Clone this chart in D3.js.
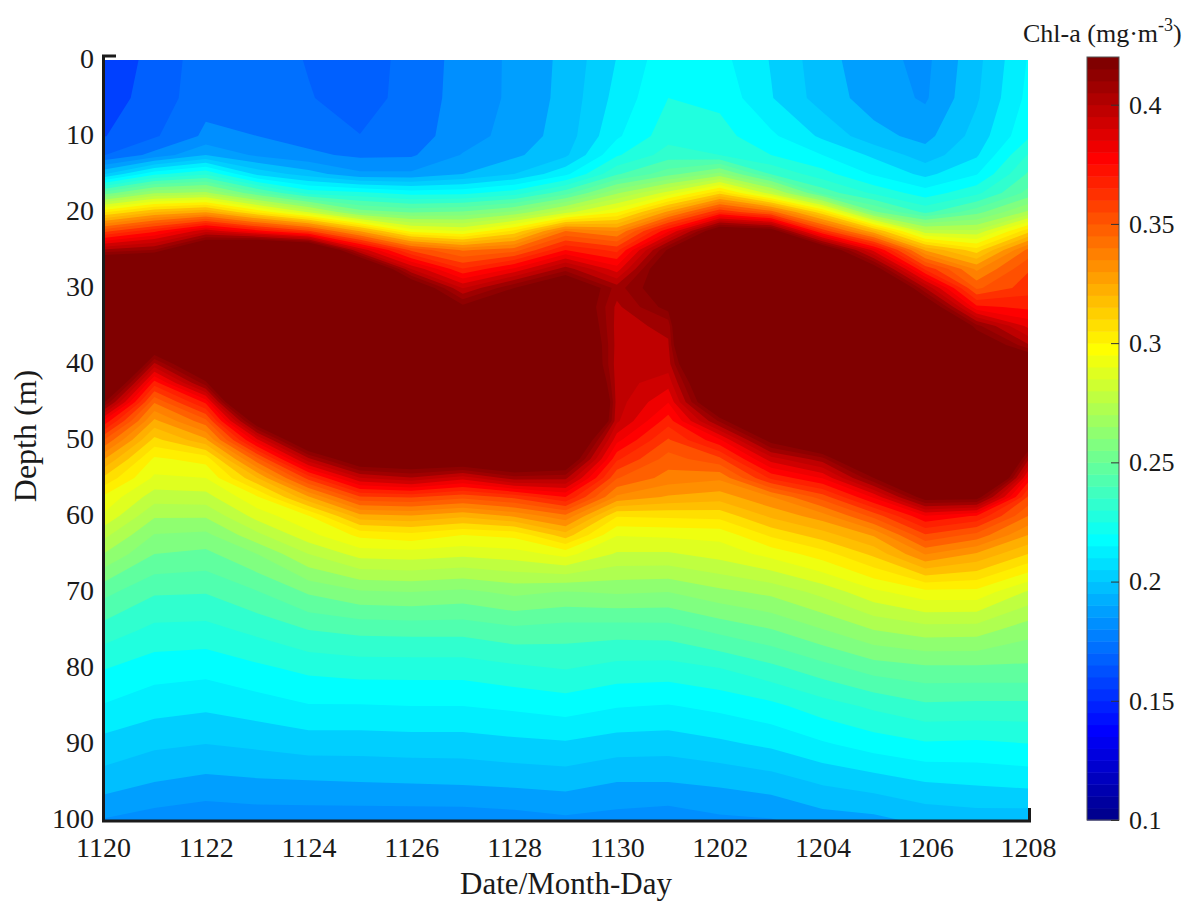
<!DOCTYPE html>
<html>
<head>
<meta charset="utf-8">
<script src="https://cdn.jsdelivr.net/npm/d3@7"></script>
<style>
body { margin: 0; background: #fff; }
text { font-family: "Liberation Serif", serif; fill: #1a1a1a; }
</style>
</head>
<body>
<div id="chart"></div>
<script>
const dates = ["1120","1121","1122","1123","1124","1125","1126","1127","1128","1129","1130",
    "1201","1202","1203","1204","1205","1206","1207","1208"];
const depths = [0,5,10,12.5,15,17.5,20,22.5,25,27.5,30,32.5,35,37.5,40,42.5,45,47.5,50,52.5,55,57.5,60,62.5,65,70,75,80,85,90,95,100];
const depthTicks = [0,10,20,30,40,50,60,70,80,90,100];
const barTicks = [0.1,0.15,0.2,0.25,0.3,0.35,0.4];

// Chl-a per date, one value per entry of depths
const chl1120 = [.1615,.1625,.1655,.173,.2025,.2515,.307,.358,.407,.46,.5,.52,.52,.51,.5,.46,.424,.383,.354,.332,.315,.3,.2925,.281,.271,.251,.238,.2265,.218,.2085,.2,.188];
const chl1121 = [.168,.169,.1725,.1835,.224,.27,.323,.374,.414,.47,.5,.5,.48,.44,.404,.372,.347,.329,.3135,.2995,.292,.282,.272,.263,.256,.242,.2315,.222,.214,.205,.196,.185];
const chl1122 = [.178,.1785,.1825,.196,.2325,.273,.33,.396,.45,.49,.52,.52,.51,.49,.45,.418,.378,.351,.329,.304,.2935,.283,.272,.2615,.254,.2415,.231,.221,.2125,.2035,.194,.183];
const chl1123 = [.1775,.178,.181,.187,.209,.25,.307,.379,.47,.5,.52,.52,.52,.52,.52,.52,.49,.433,.389,.351,.323,.3,.289,.2765,.2635,.248,.2355,.2245,.215,.205,.195,.184];
const chl1124 = [.173,.174,.178,.1825,.1996,.231,.285,.362,.46,.5,.52,.52,.52,.52,.52,.52,.52,.49,.446,.404,.364,.33,.3005,.291,.2785,.257,.241,.228,.218,.207,.1955,.184];
const chl1125 = [.1695,.17,.1737,.1795,.19,.228,.26,.33,.397,.46,.5,.52,.52,.52,.52,.52,.52,.51,.475,.437,.398,.36,.328,.303,.289,.2625,.243,.2295,.218,.207,.196,.184];
const chl1126 = [.1762,.1765,.1775,.18,.19,.223,.255,.298,.359,.3985,.44,.48,.5,.52,.52,.52,.52,.52,.5,.44,.405,.362,.33,.306,.29,.2635,.2435,.2295,.2185,.2075,.1965,.184];
const chl1127 = [.1837,.184,.185,.189,.196,.224,.257,.293,.345,.369,.398,.424,.46,.49,.5,.52,.52,.52,.5,.44,.394,.356,.325,.301,.288,.2615,.2435,.2295,.2185,.2075,.197,.184];
const chl1128 = [.19,.19,.1915,.1945,.2035,.23,.265,.31,.35,.385,.421,.46,.5,.52,.52,.52,.52,.52,.5,.448,.41,.363,.332,.303,.29,.2655,.2465,.232,.22,.209,.198,.185];
const chl1129 = [.198,.1985,.1995,.202,.2165,.2455,.283,.346,.376,.41,.445,.446,.455,.465,.47,.5,.55,.53,.46,.44,.408,.376,.344,.32,.296,.263,.245,.234,.222,.21,.199,.187];
const chl1130 = [.2113,.2135,.2172,.225,.24,.27,.3,.338,.366,.387,.41,.404,.403,.403,.402,.402,.402,.4,.386,.37,.354,.337,.309,.294,.285,.2645,.2445,.231,.219,.2075,.196,.1855];
const chl1201 = [.2235,.226,.2305,.237,.253,.289,.333,.382,.423,.44,.432,.425,.408,.405,.4025,.394,.384,.372,.36,.35,.343,.33,.31,.295,.285,.2635,.245,.2305,.218,.207,.196,.184];
const chl1202 = [.221,.224,.229,.2335,.266,.314,.368,.436,.47,.5,.52,.55,.58,.55,.49,.46,.449,.415,.382,.359,.34,.327,.311,.296,.289,.269,.2505,.2335,.2205,.2095,.1975,.187];
const chl1203 = [.2105,.2115,.22,.226,.2405,.2825,.35,.43,.47,.5,.52,.52,.52,.52,.52,.52,.5,.46,.426,.395,.37,.338,.325,.31,.296,.273,.2555,.239,.224,.2125,.2,.188];
const chl1204 = [.199,.2,.2095,.2185,.229,.2455,.31,.366,.44,.48,.5,.52,.52,.52,.52,.52,.52,.5,.451,.41,.384,.357,.335,.32,.305,.281,.263,.2455,.23,.2175,.2045,.1925];
const chl1205 = [.191,.1925,.1985,.2095,.2175,.232,.2575,.325,.388,.43,.47,.5,.52,.52,.52,.52,.52,.52,.5,.46,.421,.385,.356,.332,.318,.2915,.271,.252,.235,.222,.2075,.194];
const chl1206 = [.1866,.1875,.1935,.1995,.209,.222,.239,.281,.33,.367,.406,.44,.48,.5,.52,.52,.52,.52,.52,.5,.47,.428,.383,.36,.339,.2985,.275,.2545,.2395,.225,.211,.198];
const chl1207 = [.2013,.2025,.2065,.21,.218,.2315,.253,.28,.312,.337,.352,.378,.416,.44,.47,.49,.5,.52,.52,.52,.49,.427,.375,.351,.33,.2985,.2745,.2545,.239,.2245,.2122,.1995];
const chl1208 = [.219,.2205,.2245,.234,.242,.251,.2725,.313,.348,.36,.365,.374,.389,.407,.445,.47,.49,.47,.44,.408,.381,.36,.346,.331,.316,.285,.2665,.2545,.239,.2258,.2135,.199];

const columns = [chl1120,chl1121,chl1122,chl1123,chl1124,chl1125,chl1126,chl1127,chl1128,chl1129,
    chl1130,chl1201,chl1202,chl1203,chl1204,chl1205,chl1206,chl1207,chl1208];

const width = 1200, height = 916;
const plot = { left: 103, right: 1028, top: 60, bottom: 820 };
const bar = { left: 1087, right: 1119, top: 57, bottom: 820 };

const svg = d3.select("#chart").append("svg")
    .attr("width", width)
    .attr("height", height);

const xScale = d3.scaleLinear().domain([0, dates.length - 1]).range([plot.left, plot.right]);
const yScale = d3.scaleLinear().domain([0, 100]).range([plot.top, plot.bottom]);
const cScale = d3.scaleLinear().domain([0.1, 0.42]).range([bar.bottom, bar.top]);

// grid row -> depth, the rows are not evenly spaced
const rowDepth = d3.scaleLinear().domain(d3.range(depths.length)).range(depths);

// matlab jet with 64 steps
function jet(idx) {
    const clamp = v => Math.round(255 * Math.max(0, Math.min(1, v)));
    const r = Math.min((idx - 23) / 16, (71 - idx) / 16);
    const g = Math.min((idx - 7) / 16, (55 - idx) / 16);
    const b = Math.min((idx + 9) / 16, (39 - idx) / 16);
    return d3.rgb(clamp(r), clamp(g), clamp(b)).formatHex();
}
const levelColor = v => jet(Math.min(63, Math.floor((v - 0.1) / 0.005)));

// contour levels in the figure are 0.0075 apart
const levels = d3.range(0, 36).map(k => 0.1585 + k * 0.0075);

const grid = d3.merge(d3.transpose(columns));
const contours = d3.contours()
    .size([dates.length, depths.length])
    .thresholds(levels)(grid);

const project = d3.geoTransform({
    point: function(x, y) {
        this.stream.point(xScale(x - 0.5), yScale(rowDepth(y - 0.5)));
    }
});
const path = d3.geoPath(project);

svg.append("clipPath").attr("id", "plot-clip")
    .append("rect")
    .attr("x", plot.left)
    .attr("y", plot.top)
    .attr("width", plot.right - plot.left)
    .attr("height", plot.bottom - plot.top);

svg.append("g")
    .attr("clip-path", "url(#plot-clip)")
    .selectAll("path")
    .data(contours)
    .enter().append("path")
    .attr("d", path)
    .attr("fill", d => levelColor(d.value));

// frame: only left and bottom lines plus the two corner ticks show
const frame = svg.append("g").attr("stroke", "#1a1a1a").attr("stroke-width", 3).attr("fill", "none");
frame.append("path").attr("d", "M116,56H103.5V821H1029.5V808");

const xAxis = svg.append("g")
    .attr("transform", "translate(0," + plot.bottom + ")")
    .call(d3.axisBottom(xScale)
        .tickValues(d3.range(0, dates.length, 2))
        .tickFormat(i => dates[i])
        .tickSize(0)
        .tickPadding(17));
xAxis.select(".domain").remove();
xAxis.selectAll("text").style("font-size", "28px").style("font-family", "Liberation Serif");

const yAxis = svg.append("g")
    .attr("transform", "translate(" + plot.left + ",-1.5)")
    .call(d3.axisLeft(yScale).tickValues(depthTicks).tickSize(0).tickPadding(9));
yAxis.select(".domain").remove();
yAxis.selectAll("text").style("font-size", "28px").style("font-family", "Liberation Serif");

// colorbar
const barSteps = d3.range(64);
svg.append("g")
    .selectAll("rect")
    .data(barSteps)
    .enter().append("rect")
    .attr("x", bar.left)
    .attr("width", bar.right - bar.left)
    .attr("y", d => cScale(0.1 + (d + 1) * 0.005))
    .attr("height", d => cScale(0.1 + d * 0.005) - cScale(0.1 + (d + 1) * 0.005) + 0.5)
    .attr("fill", d => jet(d));

svg.append("rect")
    .attr("x", bar.left)
    .attr("y", bar.top)
    .attr("width", bar.right - bar.left)
    .attr("height", bar.bottom - bar.top)
    .attr("fill", "none")
    .attr("stroke", "#555")
    .attr("stroke-width", 1);

const cAxis = svg.append("g")
    .attr("transform", "translate(" + bar.right + ",0)")
    .call(d3.axisRight(cScale).tickValues(barTicks).tickFormat(d => d).tickSize(-8).tickPadding(10));
cAxis.select(".domain").remove();
cAxis.selectAll("line").attr("stroke", "#333");
cAxis.selectAll("text").style("font-size", "26px").style("font-family", "Liberation Serif");

svg.append("text")
    .attr("x", 566)
    .attr("y", 894)
    .attr("text-anchor", "middle")
    .style("font-size", "31px")
    .text("Date/Month-Day");

svg.append("text")
    .attr("transform", "translate(36,436) rotate(-90)")
    .attr("text-anchor", "middle")
    .style("font-size", "32px")
    .text("Depth (m)");

const barLabel = svg.append("text")
    .attr("x", 1023)
    .attr("y", 42)
    .style("font-size", "26px");
barLabel.append("tspan").text("Chl-a (mg·m");
barLabel.append("tspan").attr("dy", -11).style("font-size", "18px").text("-3");
barLabel.append("tspan").attr("dy", 11).text(")");
</script>
</body>
</html>
